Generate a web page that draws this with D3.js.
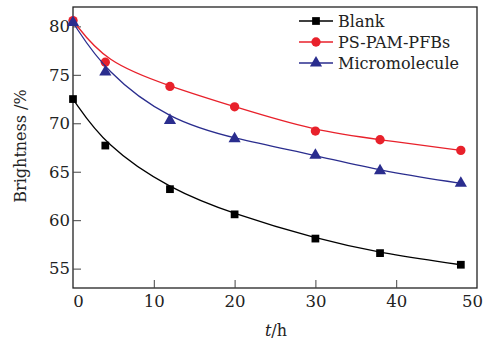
<!DOCTYPE html>
<html>
<head>
<meta charset="utf-8">
<script src="https://cdn.jsdelivr.net/npm/d3@7"></script>
<style>
  body { margin: 0; background: #fff; }
  svg { display: block; }
  text { font-family: "DejaVu Serif", "Liberation Serif", serif; fill: #222; }
</style>
</head>
<body>
<svg width="490" height="342"></svg>
<script>
// время, ч
const hours = [0, 4, 12, 20, 30, 38, 48];
// яркость, %
const blank = [72.5, 67.7, 63.2, 60.6, 58.1, 56.6, 55.4];
const pspam = [80.6, 76.3, 73.8, 71.7, 69.2, 68.3, 67.2];
const micro = [80.4, 75.3, 70.3, 68.4, 66.7, 65.1, 63.8];
const xTicks = [0, 10, 20, 30, 40, 50];
const yTicks = [55, 60, 65, 70, 75, 80];

const series = [
    {name: "Blank", values: blank, color: "#000000", marker: "square"},
    {name: "PS-PAM-PFBs", values: pspam, color: "#e8212b", marker: "circle"},
    {name: "Micromolecule", values: micro, color: "#2a2d8e", marker: "triangle"}
];

const svg = d3.select("svg");
const padL = 73, padR = 477, padT = 7, padB = 288;

const x = d3.scaleLinear().domain([0, 50]).range([padL, padR]);
const y = d3.scaleLinear().domain([53, 82]).range([padB, padT]);

// рамка
svg.append("rect")
    .attr("x", padL).attr("y", padT)
    .attr("width", padR - padL).attr("height", padB - padT)
    .attr("fill", "none").attr("stroke", "#222").attr("stroke-width", 1.3);

// оси: засечки внутрь
const xAxis = svg.append("g")
    .attr("transform", `translate(0,${padB})`)
    .call(d3.axisBottom(x).tickValues(xTicks).tickSizeInner(-8).tickSizeOuter(0).tickPadding(7));
const yAxis = svg.append("g")
    .attr("transform", `translate(${padL},0)`)
    .call(d3.axisLeft(y).tickValues(yTicks).tickSizeInner(-8).tickSizeOuter(0).tickPadding(3));

[xAxis, yAxis].forEach(g => {
    g.select(".domain").remove();
    g.selectAll("line").attr("stroke", "#444").attr("stroke-width", 1);
    g.selectAll("text")
        .attr("font-family", "DejaVu Serif")
        .attr("font-size", 16.5)
        .attr("fill", "#222");
});
xAxis.selectAll(".tick").filter(d => d === 0 || d === 50).select("line").remove();
// крайние подписи чуть сдвинуты внутрь
xAxis.selectAll(".tick").filter(d => d === 0).select("text").attr("x", 5);
xAxis.selectAll(".tick").filter(d => d === 50).select("text").attr("x", -5);

// кривые
const line = d3.line()
    .x((d, i) => x(hours[i]))
    .y(d => y(d))
    .curve(d3.curveBasis);

const sym = {
    square: d3.symbol().type(d3.symbolSquare).size(60),
    circle: d3.symbol().type(d3.symbolCircle).size(68),
    triangle: d3.symbol().type(d3.symbolTriangle).size(64)
};

series.forEach(s => {
    svg.append("path")
        .attr("d", line(s.values))
        .attr("fill", "none")
        .attr("stroke", s.color)
        .attr("stroke-width", 1.3);
    svg.append("g").selectAll("path")
        .data(s.values)
        .join("path")
        .attr("transform", (d, i) => `translate(${x(hours[i])},${y(d)})`)
        .attr("d", sym[s.marker]())
        .attr("fill", s.color);
});

// легенда
const legend = svg.append("g").attr("transform", "translate(299,21)");
series.forEach((s, i) => {
    const g = legend.append("g").attr("transform", `translate(0,${i * 21})`);
    g.append("line")
        .attr("x1", 0).attr("x2", 34)
        .attr("stroke", s.color).attr("stroke-width", 1.3);
    g.append("path")
        .attr("transform", "translate(17,0)")
        .attr("d", sym[s.marker]())
        .attr("fill", s.color);
    g.append("text")
        .attr("x", 39).attr("y", 0).attr("dy", "0.35em")
        .attr("font-size", 16)
        .text(s.name);
});

// подписи осей
svg.append("text")
    .attr("transform", "translate(26,146) rotate(-90)")
    .attr("text-anchor", "middle")
    .attr("font-size", 16)
    .text("Brightness /%");

const xl = svg.append("text")
    .attr("x", 276).attr("y", 336)
    .attr("text-anchor", "middle")
    .attr("font-size", 16);
xl.append("tspan").attr("font-style", "italic").text("t");
xl.append("tspan").text("/h");
</script>
</body>
</html>
